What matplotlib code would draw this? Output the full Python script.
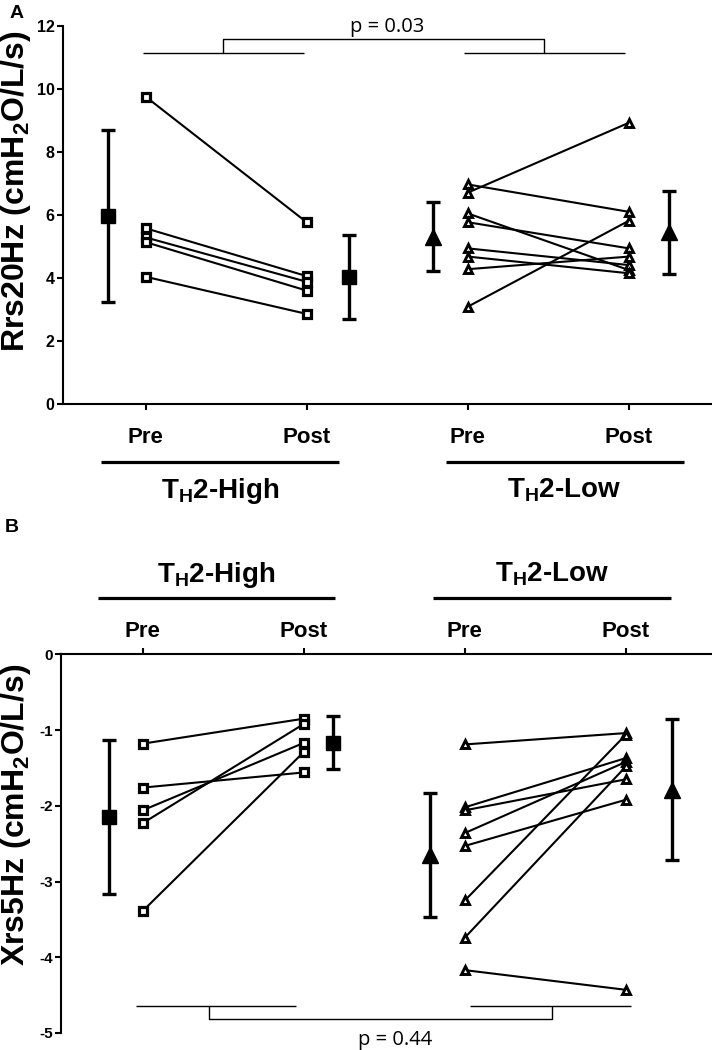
import matplotlib
matplotlib.use('Agg')
import matplotlib.pyplot as plt

plt.rcParams['font.family'] = ['Liberation Sans', 'DejaVu Sans']
plt.rcParams['mathtext.default'] = 'regular'

# ---------------- data ----------------
time_labels = ['Pre', 'Post', 'Pre', 'Post']
group_labels = ['T$_H$2-High', 'T$_H$2-Low']

# Panel A: Rrs20Hz
rrs_high_pre = [9.76, 5.58, 5.29, 5.14, 4.04]
rrs_high_post = [5.77, 4.06, 3.88, 3.60, 2.86]
rrs_low_pre = [6.97, 6.71, 6.05, 5.77, 4.94, 4.68, 4.28, 3.09]
rrs_low_post = [6.10, 8.93, 4.25, 4.94, 4.41, 4.15, 4.68, 5.82]
rrs_mean = [5.97, 4.04, 5.31, 5.45]
rrs_err = [2.72, 1.34, 1.10, 1.32]
rrs_yticks = [0, 2, 4, 6, 8, 10, 12]
p_a = 'p = 0.03'

# Panel B: Xrs5Hz
xrs_high_pre = [-1.18, -1.76, -2.06, -2.23, -3.39]
xrs_high_post = [-0.85, -1.56, -1.17, -0.92, -1.29]
xrs_low_pre = [-1.19, -2.02, -2.06, -2.36, -2.53, -3.25, -3.74, -4.17]
xrs_low_post = [-1.04, -1.37, -1.65, -1.42, -1.92, -1.06, -1.48, -4.43]
xrs_mean = [-2.145, -1.17, -2.65, -1.79]
xrs_err = [1.015, 0.35, 0.82, 0.93]
xrs_yticks = [0, -1, -2, -3, -4, -5]
p_b = 'p = 0.44'

# ---------------- figure ----------------
W, H = 712, 1050
fig = plt.figure(figsize=(W / 100, H / 100), dpi=100)


def px_axes(left, right, top, bottom):
    return fig.add_axes([left / W, 1 - bottom / H, (right - left) / W, (bottom - top) / H])


def draw_pairs(ax, pre, post, x0, x1, marker, ms, mew):
    for a, b in zip(pre, post):
        ax.plot([x0, x1], [a, b], color='black', lw=1.5, zorder=2)
    ax.plot([x0] * len(pre), pre, linestyle='none', marker=marker, ms=ms,
            mfc='white', mec='black', mew=mew, zorder=3)
    ax.plot([x1] * len(post), post, linestyle='none', marker=marker, ms=ms,
            mfc='white', mec='black', mew=mew, zorder=3)


def draw_mean(ax, x, m, e, marker, ms):
    ax.errorbar([x], [m], yerr=[e], fmt=marker, ms=ms, color='black',
                ecolor='black', elinewidth=2.4, capsize=4.8, capthick=2.4, zorder=4)


bold = dict(fontweight='bold', color='black')
pfont = dict(family=['Open Sans', 'DejaVu Sans'], fontsize=14.5, color='black')
br = dict(color='black', lw=1.0, clip_on=False, solid_capstyle='butt')
ul = dict(color='black', lw=2.3, clip_on=False, solid_capstyle='butt')

# ---------------- Panel A ----------------
axA = px_axes(62.5, 712, 26, 404)
axA.set_xlim(0.485, 4.515)
axA.set_ylim(0, 12)
for s in ['top', 'right']:
    axA.spines[s].set_visible(False)
for s in ['left', 'bottom']:
    axA.spines[s].set_linewidth(1.5)
axA.set_yticks(rrs_yticks)
axA.set_yticklabels([str(t) for t in rrs_yticks], fontsize=11.5, fontweight='bold')
axA.set_xticks([1, 2, 3, 4])
axA.set_xticklabels([])
axA.tick_params(axis='both', direction='out', length=4.3, width=1.5, pad=1.5)

draw_pairs(axA, rrs_high_pre, rrs_high_post, 1, 2, 's', 5.6, 2.3)
draw_pairs(axA, rrs_low_pre, rrs_low_post, 3, 4, '^', 6.2, 2.1)
mean_x_a = [0.767, 2.262, 2.783, 4.248]
for i, mk in enumerate(['s', 's', '^', '^']):
    draw_mean(axA, mean_x_a[i], rrs_mean[i], rrs_err[i], mk, 10 if mk == 's' else 11.5)

# significance bracket A
axA.plot([0.985, 1.983], [11.15, 11.15], **br)
axA.plot([2.976, 3.975], [11.15, 11.15], **br)
axA.plot([1.481, 1.481, 3.472, 3.472], [11.15, 11.59, 11.59, 11.15], **br)
axA.text(2.50, 11.81, p_a, ha='center', va='baseline', **pfont)

# group labels A
for x, lab in zip([1, 2, 3, 4], time_labels):
    axA.text(x, -1.24, lab, ha='center', va='baseline', fontsize=16, clip_on=False, **bold)
axA.plot([0.724, 2.200], [-1.84, -1.84], **ul)
axA.plot([2.864, 4.341], [-1.84, -1.84], **ul)
axA.text(1.462, -2.97, group_labels[0], ha='center', va='baseline', fontsize=20, **bold)
axA.text(3.600, -2.97, group_labels[1], ha='center', va='baseline', fontsize=20, **bold)

# ---------------- Panel B ----------------
axB = px_axes(61, 712, 654.3, 1033)
axB.set_xlim(0.493, 4.534)
axB.set_ylim(-5, 0)
for s in ['bottom', 'right']:
    axB.spines[s].set_visible(False)
for s in ['left', 'top']:
    axB.spines[s].set_linewidth(1.5)
axB.xaxis.tick_top()
axB.set_xticks([1, 2, 3, 4])
axB.set_xticklabels([])
axB.set_yticks(xrs_yticks)
axB.set_yticklabels([str(t) for t in xrs_yticks], fontsize=11, fontweight='bold')
axB.tick_params(axis='both', direction='out', length=4.3, width=1.5, pad=1.5)

draw_pairs(axB, xrs_high_pre, xrs_high_post, 1, 2, 's', 5.6, 2.3)
draw_pairs(axB, xrs_low_pre, xrs_low_post, 3, 4, '^', 6.2, 2.1)
mean_x_b = [0.79, 2.183, 2.783, 4.284]
for i, mk in enumerate(['s', 's', '^', '^']):
    draw_mean(axB, mean_x_b[i], xrs_mean[i], xrs_err[i], mk, 10 if mk == 's' else 11.5)

# significance bracket B
axB.plot([0.958, 1.952], [-4.65, -4.65], **br)
axB.plot([3.03, 4.03], [-4.65, -4.65], **br)
axB.plot([1.41, 1.41, 3.54, 3.54], [-4.65, -4.82, -4.82, -4.65], **br)
axB.text(2.566, -5.16, p_b, ha='center', va='baseline', clip_on=False, **pfont)

# group labels B
for x, lab in zip([1, 2, 3, 4], time_labels):
    axB.text(x, 0.233, lab, ha='center', va='baseline', fontsize=16, clip_on=False, **bold)
axB.plot([0.723, 2.194], [0.744, 0.744], **ul)
axB.plot([2.802, 4.280], [0.744, 0.744], **ul)
axB.text(1.458, 0.96, group_labels[0], ha='center', va='baseline', fontsize=20, **bold)
axB.text(3.541, 0.96, group_labels[1], ha='center', va='baseline', fontsize=20, **bold)

# ---------------- axis titles & panel letters ----------------
fig.text(16 / W, 1 - 191 / H, 'Rrs20Hz (cmH$_2$O/L/s)', rotation=90,
         ha='center', va='center', fontsize=23, **bold)
fig.text(16 / W, 1 - 815 / H, 'Xrs5Hz (cmH$_2$O/L/s)', rotation=90,
         ha='center', va='center', fontsize=23, **bold)
fig.text(17 / W, 1 - 13 / H, 'A', ha='center', va='center', fontsize=14, **bold)
fig.text(12 / W, 1 - 528 / H, 'B', ha='center', va='center', fontsize=14, **bold)

fig.savefig('out.png', dpi=100)
